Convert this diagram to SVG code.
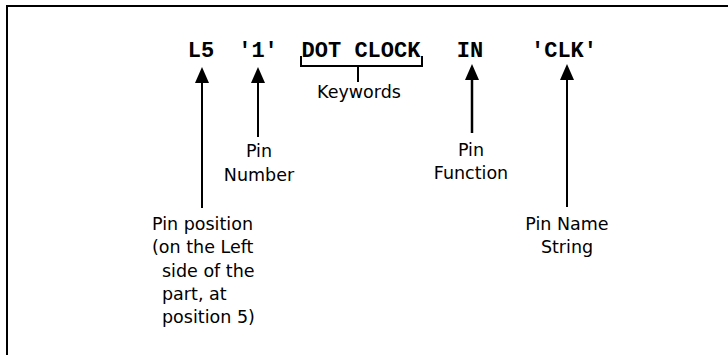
<svg xmlns="http://www.w3.org/2000/svg" width="728" height="355" viewBox="0 0 728 355">
  <style>
    .code { font-family: "Liberation Mono", "Courier New", monospace; font-size: 22px; font-weight: bold; fill: #000; }
    .lbl { font-family: "DejaVu Sans", "Liberation Sans", sans-serif; font-size: 17.5px; fill: #000; }
    .c { text-anchor: middle; }
    .ln { stroke: #000; stroke-width: 2; fill: none; }
  </style>
  <defs>
    <marker id="arr" markerUnits="userSpaceOnUse" viewBox="0 0 16 14" markerWidth="16" markerHeight="14" refX="12" refY="7" orient="auto">
      <path d="M0,0 L16,7 L0,14 Z" fill="#000"/>
    </marker>
  </defs>
  <rect width="728" height="355" fill="#fff"/>
  <g id="frame">
    <path class="ln" d="M7,355 V6 H728"/>
  </g>
  <g id="code-L5"><text class="code c" x="201" y="57">L5</text></g>
  <g id="code-1"><text class="code c" x="258" y="57">'1'</text></g>
  <g id="code-dotclock"><text class="code c" x="361" y="57">DOT CLOCK</text></g>
  <g id="code-IN"><text class="code c" x="470" y="57">IN</text></g>
  <g id="code-CLK"><text class="code c" x="564" y="57">'CLK'</text></g>

  <g id="label-keywords"><text class="lbl c" x="359" y="98">Keywords</text></g>
  <g id="label-pin-number">
    <text class="lbl c" x="259" y="157">Pin</text>
    <text class="lbl c" x="259" y="181">Number</text>
  </g>
  <g id="label-pin-function">
    <text class="lbl c" x="471" y="156">Pin</text>
    <text class="lbl c" x="471" y="179">Function</text>
  </g>
  <g id="label-pin-name">
    <text class="lbl c" x="567" y="230">Pin Name</text>
    <text class="lbl c" x="567" y="253">String</text>
  </g>
  <g id="label-pin-position">
    <text class="lbl" x="152" y="230">Pin position</text>
    <text class="lbl" x="152" y="253">(on the Left</text>
    <text class="lbl" x="162" y="277">side of the</text>
    <text class="lbl" x="162" y="300">part, at</text>
    <text class="lbl" x="162" y="323">position 5)</text>
  </g>

  <g id="connectors">
    <path class="ln" d="M301,56 V66 H422 V56"/>
    <line class="ln" x1="358" y1="66" x2="358" y2="82"/>
    <line class="ln" x1="202" y1="208" x2="202" y2="71" marker-end="url(#arr)"/>
    <line class="ln" x1="258" y1="137" x2="258" y2="71" marker-end="url(#arr)"/>
    <line class="ln" x1="472" y1="133" x2="472" y2="68" marker-end="url(#arr)" style="stroke-width:2.5"/>
    <line class="ln" x1="567" y1="207" x2="567" y2="68" marker-end="url(#arr)"/>
  </g>
</svg>
